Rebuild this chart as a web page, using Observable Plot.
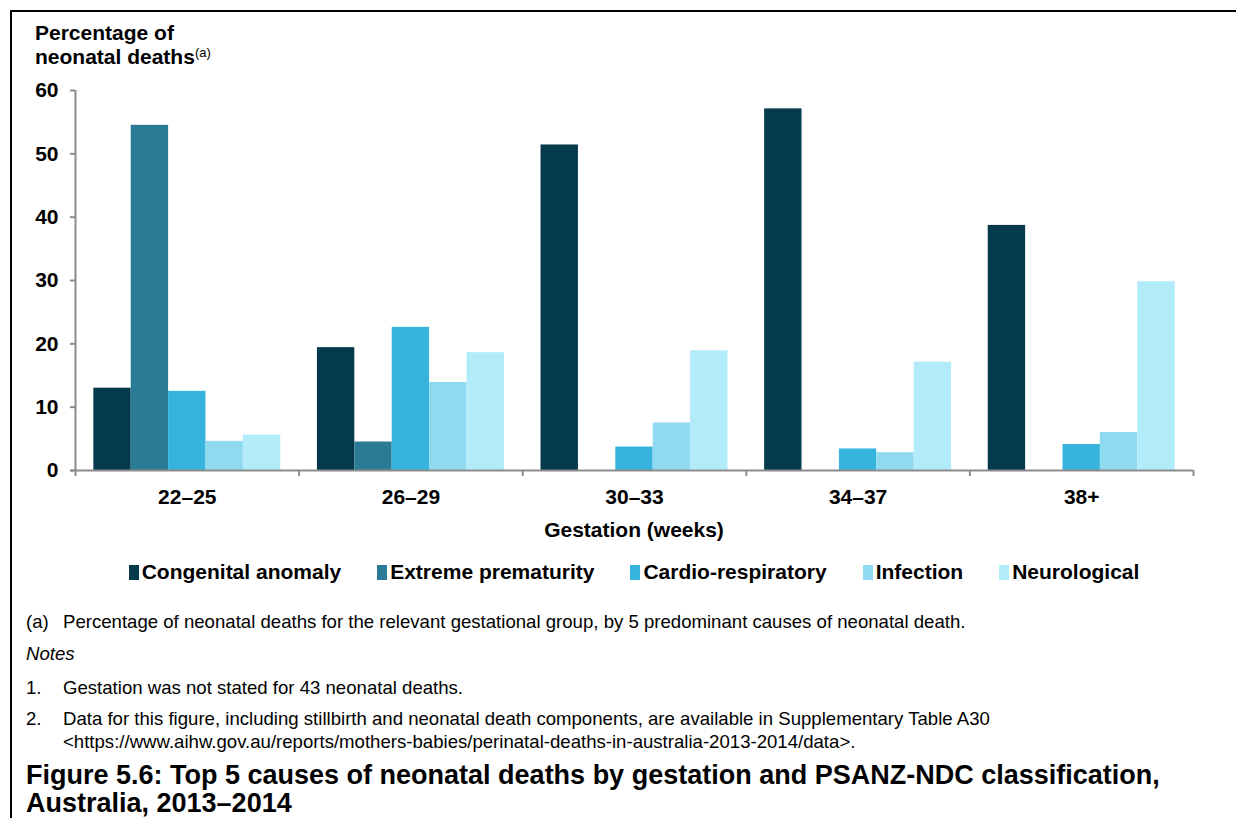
<!DOCTYPE html>
<html>
<head>
<meta charset="utf-8">
<script src="https://cdn.jsdelivr.net/npm/d3@7"></script>
<script src="https://cdn.jsdelivr.net/npm/@observablehq/plot@0.6"></script>
<style>
  html, body { margin: 0; padding: 0; background: #fff; width: 1236px; height: 818px; overflow: hidden; }
  body { font-family: "Liberation Sans", Arial, sans-serif; color: #000; }
  #box { position: absolute; left: 10px; top: 10px; width: 1400px; height: 1000px;
         border-top: 2px solid #000; border-left: 2px solid #000; }
  .abs { position: absolute; }
  #ytitle { left: 23px; top: 9px; font-size: 21px; line-height: 24px; font-weight: bold; }
  #ytitle sup { font-size: 13px; font-weight: normal; vertical-align: 0; position: relative; top: -7px; }
  #chart { left: 0; top: 58px; }
  #xtitle { left: 0; width: 1244px; text-align: center; top: 506px; font-size: 21px; line-height: 24px; font-weight: bold; }
  #legend { left: 0; width: 1244px; top: 548px; display: flex; justify-content: center; gap: 36px;
            font-size: 21px; line-height: 24px; font-weight: bold; }
  #legend .item { display: flex; align-items: center; }
  #legend .sw { width: 10px; height: 15px; margin-right: 3px; display: inline-block; }
  .note { font-size: 18.6px; line-height: 23px; }
  .note .num { position: absolute; left: 14px; }
  .note .txt { position: absolute; left: 51px; white-space: nowrap; }
  #figtitle { left: 14px; top: 749px; font-size: 27px; line-height: 28px; font-weight: bold; white-space: nowrap; }
</style>
</head>
<body>
<div id="box">
  <div id="ytitle" class="abs">Percentage of<br>neonatal deaths<sup>(a)</sup></div>
  <div id="chart" class="abs"></div>
  <div id="xtitle" class="abs">Gestation (weeks)</div>
  <div id="legend" class="abs"></div>
  <div class="abs note" style="top:598px;left:0;width:1200px;height:23px;"><span class="num">(a)</span><span class="txt">Percentage of neonatal deaths for the relevant gestational group, by 5 predominant causes of neonatal death.</span></div>
  <div class="abs note" style="top:630px;left:14px;font-style:italic;">Notes</div>
  <div class="abs note" style="top:664px;left:0;width:1200px;height:23px;"><span class="num">1.</span><span class="txt">Gestation was not stated for 43 neonatal deaths.</span></div>
  <div class="abs note" style="top:695px;left:0;width:1200px;height:46px;"><span class="num">2.</span><span class="txt">Data for this figure, including stillbirth and neonatal death components, are available in Supplementary Table A30<br>&lt;https://www.aihw.gov.au/reports/mothers-babies/perinatal-deaths-in-australia-2013-2014/data&gt;.</span></div>
  <div id="figtitle" class="abs">Figure 5.6: Top 5 causes of neonatal deaths by gestation and PSANZ-NDC classification,<br>Australia, 2013–2014</div>
</div>
<script>
// ---- Data ----
const gestation = ["22–25", "26–29", "30–33", "34–37", "38+"];
const causes = ["Congenital anomaly", "Extreme prematurity", "Cardio-respiratory", "Infection", "Neurological"];
const congenitalAnomaly  = [13.0, 19.4, 51.4, 57.1, 38.7];
const extremePrematurity = [54.5, 4.5, 0, 0, 0];
const cardioRespiratory  = [12.5, 22.6, 3.7, 3.4, 4.1];
const infection          = [4.6, 13.9, 7.5, 2.8, 6.0];
const neurological       = [5.6, 18.6, 18.9, 17.1, 29.8];
const yTicks = [0, 10, 20, 30, 40, 50, 60];
const colors = ["#043a4c", "#2a7c96", "#36b4dd", "#8fd9f1", "#b2ebfa"];

const series = [congenitalAnomaly, extremePrematurity, cardioRespiratory, infection, neurological];
const data = gestation.flatMap((g, i) => causes.map((c, j) => ({
  gestation: g, gi: i, cause: c, ci: j, value: series[j][i]
})));

// group layout within each gestation band (band = 1 unit on x)
const barW = 0.1672;
const groupPad = (1 - barW * causes.length) / 2;

const axisGray = "#8c8c8c";
const chart = Plot.plot({
  width: 1224,
  height: 490,
  marginTop: 20,
  marginLeft: 63,
  marginRight: 43,
  marginBottom: 90,
  style: { fontFamily: "'Liberation Sans', Arial, sans-serif", fontSize: "21px", fontWeight: "bold", color: "#000", background: "transparent" },
  x: { domain: [0, gestation.length], axis: null },
  y: { domain: [0, 60], axis: null },
  color: { domain: causes, range: colors },
  marks: [
    Plot.rectY(data, {
      x1: d => d.gi + groupPad + d.ci * barW,
      x2: d => d.gi + groupPad + (d.ci + 1) * barW,
      y: "value",
      fill: "cause"
    }),
    Plot.ruleX([0], { stroke: axisGray, strokeWidth: 2 }),
    Plot.ruleY([0], { stroke: axisGray, strokeWidth: 2, insetLeft: -5 }),
    Plot.axisY({ ticks: yTicks, tickSize: 5, tickPadding: 12, stroke: axisGray, strokeWidth: 2, label: null, fontSize: 21, fontWeight: "bold" }),
    Plot.axisX({ ticks: d3.range(0, gestation.length + 1), tickSize: 6, tickFormat: () => "", stroke: axisGray, strokeWidth: 2, label: null }),
    Plot.axisX({ ticks: gestation.map((g, i) => i + 0.5), tickSize: 0, tickPadding: 19,
                 tickFormat: t => gestation[Math.floor(t)], label: null, fontSize: 21, fontWeight: "bold" })
  ]
});
document.getElementById("chart").appendChild(chart);

// ---- Legend ----
const legend = document.getElementById("legend");
causes.forEach((c, j) => {
  const item = document.createElement("span");
  item.className = "item";
  const sw = document.createElement("span");
  sw.className = "sw";
  sw.style.background = colors[j];
  item.appendChild(sw);
  item.appendChild(document.createTextNode(c));
  legend.appendChild(item);
});
</script>
</body>
</html>
